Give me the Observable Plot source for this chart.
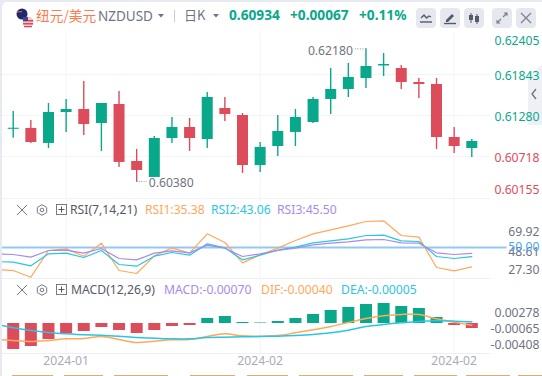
<!DOCTYPE html>
<html lang="zh">
<head>
<meta charset="utf-8">
<script src="https://cdn.jsdelivr.net/npm/d3@7"></script>
<script src="https://cdn.jsdelivr.net/npm/@observablehq/plot@0.6"></script>
<style>
html,body{margin:0;padding:0;background:#e8eaf1;}
#card{position:absolute;left:2px;top:2px;width:540px;height:374px;background:#fff;border-radius:5px 0 0 0;}
#root{position:absolute;left:0;top:0;width:542px;height:376px;overflow:hidden;font-family:"Noto Sans","Noto Sans CJK SC",sans-serif;}
.t{position:absolute;white-space:nowrap;line-height:16px;}
#root svg.pane{position:absolute;left:0;overflow:visible;background:transparent;}
</style>
</head>
<body>
<div id="root"><div id="card"></div></div>
<script>
// ---- candles (day index, open, close, high, low) ----
const candleIdx = [1,2,3,4,5,6,7,8,9,10,11,12,13,14,15,16,17,18,19,20,21,22,23,24,25,26,27];
const opens  = [.61090,.61102,.60896,.61321,.61362,.61170,.61431,.60648,.60429,.60964,.61115,.60950,.61376,.61280,.60593,.60854,.61047,.61184,.61500,.61637,.61788,.61960,.61925,.61733,.61706,.60978,.60827];
const closes = [.61105,.60909,.61321,.61362,.61156,.61445,.60635,.60525,.60964,.61115,.60964,.61527,.61294,.60593,.60841,.61060,.61253,.61500,.61637,.61802,.61953,.61980,.61733,.61706,.60978,.60854,.60923];
const highs  = [.61335,.61211,.61445,.61500,.61747,.61445,.61610,.60813,.60992,.61253,.61239,.61596,.61527,.61307,.60909,.61280,.61362,.61527,.61925,.61994,.62195,.62131,.61967,.61788,.61788,.61115,.60950];
const lows   = [.60969,.60896,.60827,.61047,.61005,.60786,.60566,.60360,.60429,.60896,.60786,.60827,.61198,.60484,.60497,.60717,.60854,.61170,.61294,.61527,.61651,.61816,.61637,.61513,.60813,.60758,.60703];

// ---- indicators, index 0 sits just left of the visible window ----
const rsi1 = [33.38,32.62,27.58,47.73,48.99,43.45,53.27,32.62,30.35,43.70,49.75,45.72,60.33,53.78,38.41,44.46,49.50,55.29,60.33,63.35,66.37,69.65,70.15,59.07,57.81,34.89,32.37,35.38];
const rsi2 = [39.42,38.92,36.15,45.21,45.72,42.44,47.73,37.15,35.89,43.45,46.22,44.21,52.77,49.75,40.68,44.21,47.98,50.25,53.53,55.04,56.55,59.07,59.32,55.04,54.53,43.20,41.69,43.06];
const rsi3 = [45.21,44.71,42.70,47.73,47.98,45.72,49.24,41.69,40.68,45.72,47.48,45.97,51.76,49.50,43.20,45.21,47.73,49.50,52.02,53.27,54.28,55.79,56.05,53.53,53.27,45.97,44.71,45.50];
const dif  = [-.00219,-.00238,-.00252,-.00238,-.00215,-.00210,-.00182,-.00224,-.00266,-.00247,-.00229,-.00224,-.00182,-.00145,-.00173,-.00177,-.00168,-.00131,-.00089,-.00042,.00014,.00070,.00107,.00126,.00126,.00065,.00019,-.00023];
const dea  = [-.00009,-.00061,-.00098,-.00126,-.00145,-.00159,-.00163,-.00177,-.00196,-.00205,-.00215,-.00215,-.00196,-.00191,-.00187,-.00182,-.00177,-.00168,-.00154,-.00131,-.00093,-.00042,-.00014,.00009,.00028,.00037,.00033,.00023];
const macd = [-.00364,-.00322,-.00224,-.00145,-.00112,-.00056,-.00098,-.00140,-.00098,-.00042,-.00028,.00070,.00098,.00014,.00007,.00028,.00070,.00126,.00182,.00224,.00266,.00280,.00238,.00210,.00084,-.00028,-.00070];

// ---- axis labels ----
const priceLabels = ["0.62405","0.61843","0.61280","0.60718","0.60155"];
const priceLabelAt = [.62300,.61822,.61258,.60695,.60257];
const priceColors = ["#0aa88b","#0aa88b","#0aa88b","#dc4c5a","#dc4c5a"];
const priceGrid = [.61843,.61280,.60718];
const rsiLabels = ["69.92","48.61","27.30"];
const rsiLabelAt = [61.3,46.2,32.6];
const macdLabels = ["0.00278","-0.00065","-0.00408"];
const macdLabelAt = [.0014,-.0008,-.00305];
const dateIdx = [4,15,26];
const dateLabels = ["2024-01","2024-02","2024-02"];

const GREEN = "#0aa88b", RED = "#dc4c5a", GRID = "#f3f4f8", AXIS = "#6f7382";
const ORANGE = "#ffa85c", CYAN = "#2cc4e4", PURPLE = "#a78be8";
const candles = candleIdx.map((i,k)=>({i,o:opens[k],c:closes[k],h:highs[k],l:lows[k]}));
const line = a => a.map((v,i)=>({i,v}));
const bars = macd.map((v,k)=>({i:k+1,v}));
const xDomain = [0.393,28.06];
const font = '"Noto Sans",sans-serif';
const base = {width:542, marginLeft:2, marginRight:52, marginTop:0, marginBottom:0,
  x:{domain:xDomain, axis:null}, style:{background:"transparent",fontFamily:font,overflow:"visible"}};
const vgrid = Plot.ruleX(dateIdx,{stroke:GRID,strokeWidth:1});
const labels = (texts,at,fill)=>Plot.text(texts,{
  y:(d,i)=>at[i], text:d=>d, frameAnchor:"right", dx:49, textAnchor:"end",
  fill:(d,i)=>Array.isArray(fill)?fill[i]:fill, fontSize:12.2});
const root = document.getElementById("root");
function add(plot,top){plot.classList.add("pane");plot.style.top=top+"px";plot.style.position="absolute";root.appendChild(plot);}

// ---- header and pane legends helpers ----
function text(s,left,top,size,color,extra){
  const e=document.createElement("span");e.className="t";e.textContent=s;
  e.style.cssText+=`left:${left}px;top:${top}px;font-size:${size}px;color:${color};${extra||""}`;
  root.appendChild(e);return e;
}
function svg(html,left,top,w,h){
  const d=document.createElement("div");d.style.cssText=`position:absolute;left:${left}px;top:${top}px;width:${w}px;height:${h}px`;
  d.innerHTML=`<svg width="${w}" height="${h}" viewBox="0 0 ${w} ${h}" style="display:block">${html}</svg>`;root.appendChild(d);return d;
}

// side tab goes under the price labels
svg(`<path d="M14 0v60H0V10z" fill="#eff0f5"/><path d="M8 24l-4 5 4 5" fill="none" stroke="#6f7382" stroke-width="1.3"/>`,528,65,14,60);

// main pane
add(Plot.plot({...base,height:165,y:{domain:[.6014,.62406],axis:null},
  color:{type:"identity"},
  marks:[
    vgrid,
    Plot.ruleY(priceGrid,{stroke:GRID}),
    Plot.ruleY([.6014],{stroke:GRID}),
    Plot.ruleX(candles,{x:"i",y1:"l",y2:"h",stroke:d=>d.c>=d.o?GREEN:RED,strokeWidth:1.4}),
    Plot.ruleX(candles,{x:"i",y1:"o",y2:"c",stroke:d=>d.c>=d.o?GREEN:RED,strokeWidth:11}),
    Plot.ruleY([{a:8,b:8.6,y:.60375}],{x1:"a",x2:"b",y:"y",stroke:"#8a8d99",strokeDasharray:"1 1.5"}),
    Plot.ruleY([{a:20.4,b:21,y:.62195}],{x1:"a",x2:"b",y:"y",stroke:"#8a8d99",strokeDasharray:"1 1.5"}),
    Plot.text(["0.60380"],{x:()=>8,y:()=>.60375,text:d=>d,textAnchor:"start",dx:12,dy:2,fill:AXIS,fontSize:12.2}),
    Plot.text(["0.62180"],{x:()=>21,y:()=>.62195,text:d=>d,textAnchor:"end",dx:-13,dy:2,fill:AXIS,fontSize:12.2}),
    labels(priceLabels,priceLabelAt,priceColors)
  ]}),33);

// RSI pane
add(Plot.plot({...base,height:80,y:{domain:[26.6,87],axis:null},
  color:{type:"identity"},
  marks:[
    vgrid,
    Plot.ruleY([26.6],{stroke:"#eeeff4"}),
    Plot.ruleY([50],{x1:()=>0.393,x2:()=>29,stroke:"#93c7f5",strokeWidth:2}),
    Plot.line(line(rsi1),{x:"i",y:"v",stroke:ORANGE,strokeWidth:1.2,clip:true}),
    Plot.line(line(rsi2),{x:"i",y:"v",stroke:CYAN,strokeWidth:1.2,clip:true}),
    Plot.line(line(rsi3),{x:"i",y:"v",stroke:PURPLE,strokeWidth:1.2,clip:true}),
    labels(rsiLabels,rsiLabelAt,AXIS),
    labels(["50.00"],[50],"#4aa5f0")
  ]}),198);

// MACD pane with the date axis below
add(Plot.plot({...base,height:98,marginBottom:23,y:{domain:[-.0042,.0063],axis:null},
  color:{type:"identity"},
  marks:[
    vgrid,
    Plot.ruleY([-.0042],{stroke:"#eeeff4"}),
    Plot.ruleX(bars,{x:"i",y1:()=>0,y2:"v",stroke:d=>d.v>=0?GREEN:RED,strokeWidth:12,clip:true}),
    Plot.line(line(dif),{x:"i",y:"v",stroke:ORANGE,strokeWidth:1.5,curve:"catmull-rom",clip:true}),
    Plot.line(line(dea),{x:"i",y:"v",stroke:CYAN,strokeWidth:1.5,curve:"catmull-rom",clip:true}),
    labels(macdLabels,macdLabelAt,AXIS),
    Plot.axisX({ticks:dateIdx,tickFormat:d=>dateLabels[dateIdx.indexOf(d)],tickSize:0,tickPadding:3,
      fontSize:12.2,color:"#a9abb9",label:null,anchor:"bottom"})
  ]}),278);

svg(`<circle cx="6" cy="6" r="5.5" fill="#1d2a6b"/><path d="M1 3h5v1.4H1z" fill="#d84a5a"/>
<circle cx="12" cy="14" r="5.5" fill="#f3c9cd"/><path d="M7 12h10v1.4H7zM7 15h10v1.4H7zM8 18h8v1.2H8z" fill="#d84a5a"/><path d="M7 9h5v4H7z" fill="#3a4a8c"/>`,16,8,19,20);
text("纽元/美元",36,7,13.7,"#ff7a4d",'font-family:"Noto Sans CJK SC";');
text("NZDUSD",98,8,13.5,"#6f7382");
const tri=(x,y)=>svg(`<path d="M0 0h6l-3 3.5z" fill="#6f7382"/>`,x,y,6,4);
tri(158,14);tri(213,14);
svg(`<rect width="1" height="12" fill="#c9ccd6"/>`,174,10,1,12);
text("日K",184,7,13,"#6f7382",'font-family:"Noto Sans CJK SC";');
text("0.60934",229,7,13.7,GREEN,"font-weight:700;");
text("+0.00067",290,7,13.7,GREEN,"font-weight:700;");
text("+0.11%",359,7,13.7,GREEN,"font-weight:700;");

const btnIcons=[
 `<path d="M5 10l3-3 2.5 3 2.5-2 2 1" fill="none" stroke="#555a66" stroke-width="1.3"/><path d="M4 14h12" stroke="#555a66" stroke-width="1.4"/>`,
 `<path d="M6 12l6-6 2 2-6 6H6z" fill="#555a66"/><path d="M4 15.5h12" stroke="#555a66" stroke-width="1.4"/>`,
 `<path d="M7 5v10M13 6v10" stroke="#555a66"/><rect x="5" y="7" width="4" height="5" fill="#555a66"/><rect x="11" y="8" width="4" height="6" fill="#555a66"/>`,
 `<path d="M5 15l4-4M15 5l-4 4" stroke="#7b7f8b" stroke-width="1.3"/><path d="M4.5 11.5v4h4zM15.5 8.5v-4h-4z" fill="#7b7f8b"/>`,
 `<path d="M5 5l10 10M15 5L5 15" stroke="#7b7f8b" stroke-width="1.2"/>`
];
const btnX=[416,440,464,492,516];
btnIcons.forEach((ic,k)=>{const d=svg(ic,btnX[k],8,20,20);d.style.background="#e6e8ef";d.style.borderRadius="4px";});

function legendIcons(y){
  svg(`<path d="M1 1l10 10M11 1L1 11" stroke="#777b87" stroke-width="1"/>`,16,y,12,12);
  svg(`<path d="M6 .7l4.7 2.7v5.2L6 11.3 1.3 8.6V3.4z" fill="none" stroke="#777b87"/><circle cx="6" cy="6" r="1.8" fill="none" stroke="#777b87"/>`,36,y,12,12);
  svg(`<rect x=".5" y=".5" width="10" height="10" fill="none" stroke="#777b87"/><path d="M5.5 2.5v6M2.5 5.5h6" stroke="#555"/>`,56,y,11,11);
}
legendIcons(204);
text("RSI(7,14,21)",70,202,12.2,"#555a66");
text("RSI1:35.38",145,202,12.2,ORANGE);
text("RSI2:43.06",211,202,12.2,CYAN);
text("RSI3:45.50",277,202,12.2,PURPLE);
legendIcons(284);
text("MACD(12,26,9)",71,282,12.2,"#555a66");
text("MACD:-0.00070",164,282,12.2,PURPLE);
text("DIF:-0.00040",261,282,12.2,ORANGE);
text("DEA:-0.00005",341,282,12.2,CYAN);

// strips of the tabs peeking in at the bottom edge
const tabStart=[12,64,114,190,247,299,364,414,466,518];
const tabEnd=[53,103,168,235,288,353,403,457,510,542];
tabStart.forEach((s,k)=>svg(`<rect width="${tabEnd[k]-s}" height="1" fill="#d8ad78"/>`,s,375,tabEnd[k]-s,1));
</script>
</body>
</html>
